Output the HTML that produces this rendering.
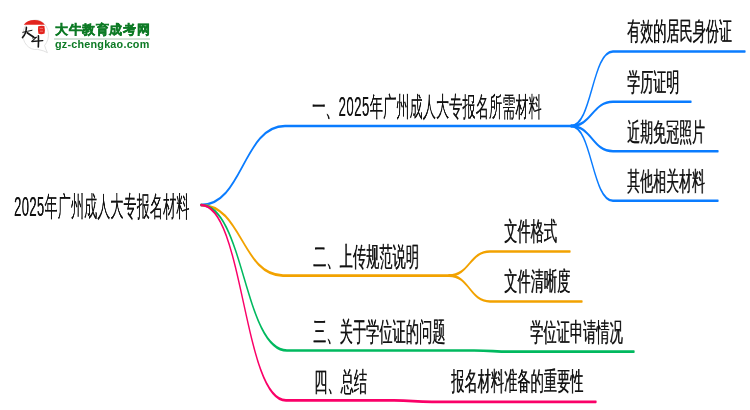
<!DOCTYPE html>
<html><head><meta charset="utf-8">
<style>
html,body{margin:0;padding:0;background:#fff;width:750px;height:410px;overflow:hidden;position:relative}
.t{position:absolute;white-space:nowrap;font-family:"Liberation Sans",sans-serif;font-size:27px;line-height:27px;color:#111;transform-origin:0 0;will-change:transform;text-shadow:0.55px 0 0 rgba(17,17,17,0.7);}
.r{font-size:28px;line-height:28px}
.lf{font-size:26px;line-height:26px}
svg{position:absolute;left:0;top:0}
</style></head><body>
<svg width="750" height="410" viewBox="0 0 1500 410" preserveAspectRatio="none" fill="none" stroke-linecap="round">
 <g stroke="#0a7cff" stroke-width="2.7">
  <path d="M 402 205 C 486 205 486 126 570 126 L 1144 126"/>
 </g>
 <g stroke="#0a7cff" stroke-width="2.55">
  <path d="M 1142 126 C 1184 126 1184 51.5 1226 51.5 L 1490 51.5"/>
  <path d="M 1142 126 C 1184 126 1184 101.8 1226 101.8 L 1382 101.8"/>
  <path d="M 1142 126 C 1184 126 1184 151.2 1226 151.2 L 1436 151.2"/>
  <path d="M 1142 126 C 1184 126 1184 200.8 1226 200.8 L 1436 200.8"/>
 </g>
 <g stroke="#f2a200" stroke-width="2.7">
  <path d="M 402 205 C 484 205 484 275.6 566 275.6 L 900 275.6"/>
 </g>
 <g stroke="#f2a200" stroke-width="2.55">
  <path d="M 898 275.6 C 939 275.6 939 251.4 980 251.4 L 1140 251.4"/>
  <path d="M 898 275.6 C 939 275.6 939 301.4 980 301.4 L 1164 301.4"/>
 </g>
 <g stroke="#00b95f" stroke-width="2.7">
  <path d="M 402 205 C 488 205 488 350.5 574 350.5 L 948 350.5 C 986 350.5 986 351.7 1024 351.7 L 1268 351.7"/>
 </g>
 <g stroke="#fa0068" stroke-width="2.7">
  <path d="M 402 205 C 487 205 487 400.4 572 400.4 L 788 400.4 C 826 400.4 826 401.8 864 401.8 L 1192 401.8"/>
 </g>
</svg>
<svg width="750" height="410" viewBox="0 0 750 410" style="position:absolute;left:0;top:0">
 <path d="M44.6 45.4 A12.8 14.8 0 1 0 37.6 49.4 Q44 50.6 47.4 52.6 Q45.6 49.2 44.6 45.4 Z" fill="#fff" stroke="#d6d6d6" stroke-width="0.7"/>
 <path d="M23.8 24.7 A11.5 8.1 0 0 1 44.8 24.7 Z" fill="#e3241e"/>
 <path d="M38.2 26.2 Q41.5 25.2 44.4 26 Q45.3 30 44.6 33.6 Q41.5 34.6 38.4 33.8 Q37.6 30 38.2 26.2 Z" fill="#e3241e"/>
 <path d="M39.6 28.4 h3.4 M40 31.2 h3" stroke="#f4a8a8" stroke-width="0.6"/>
 <g stroke="#151515" stroke-linecap="round" fill="none">
  <path d="M22.8 32.3 Q27.5 31.3 32 30.3" stroke-width="1.0"/>
  <path d="M26.4 27.4 Q26.4 33 22.5 37.6" stroke-width="1.6"/>
  <path d="M27.2 32.8 Q30.5 35.2 33.6 37" stroke-width="1.7"/>
  <path d="M32.6 38 L36.4 37.3" stroke-width="1.0"/>
  <path d="M36.2 37.4 Q34 39.3 31.9 41.4" stroke-width="1.1"/>
  <path d="M32 41.5 L42.8 40.6" stroke-width="1.3"/>
  <path d="M38.4 35.8 Q38.7 41 38.3 47" stroke-width="1.6"/>
 </g>
</svg>
<div style="position:absolute;left:54.5px;top:21.5px;font-family:'Liberation Sans',sans-serif;font-weight:bold;font-size:13px;line-height:16px;letter-spacing:0.6px;color:#0d7a25;-webkit-text-stroke:0.45px #0d7a25;will-change:transform;white-space:nowrap">大牛教育成考网</div>
<div style="position:absolute;left:54px;top:38px;width:96px;height:1.5px;background:#d3e2d6"></div>
<div style="position:absolute;left:55px;top:38px;font-family:'Liberation Sans',sans-serif;font-weight:bold;font-size:10.8px;line-height:12px;letter-spacing:0.22px;color:#0d7a25;will-change:transform;white-space:nowrap">gz-chengkao.com</div>
<div class="t r" id="root" style="left:14px;top:192.5px;transform:scaleX(.47)"><span style="letter-spacing:0.6px">2025</span>年广州成人大专报名材料</div>
<div class="t" id="b1" style="left:312px;top:93.5px;transform:scaleX(.49)">一、<span style="letter-spacing:0.9px">2025</span>年广州成人大专报名所需材料</div>
<div class="t lf" id="l1" style="left:627px;top:17.5px;transform:scaleX(.504)">有效的居民身份证</div>
<div class="t lf" id="l2" style="left:627px;top:69px;transform:scaleX(.502)">学历证明</div>
<div class="t lf" id="l3" style="left:627px;top:118.5px;transform:scaleX(.499)">近期免冠照片</div>
<div class="t lf" id="l4" style="left:627px;top:168px;transform:scaleX(.499)">其他相关材料</div>
<div class="t" id="b2" style="left:313px;top:244px;transform:scaleX(.49)">二、上传规范说明</div>
<div class="t lf" id="l5" style="left:504px;top:218px;transform:scaleX(.509)">文件格式</div>
<div class="t lf" id="l6" style="left:504px;top:268px;transform:scaleX(.509)">文件清晰度</div>
<div class="t" id="b3" style="left:313px;top:319px;transform:scaleX(.49)">三、关于学位证的问题</div>
<div class="t lf" id="l7" style="left:530px;top:318.5px;transform:scaleX(.509)">学位证申请情况</div>
<div class="t" id="b4" style="left:314px;top:368.5px;transform:scaleX(.49)">四、总结</div>
<div class="t lf" id="l8" style="left:451px;top:368px;transform:scaleX(.509)">报名材料准备的重要性</div>
</body></html>
